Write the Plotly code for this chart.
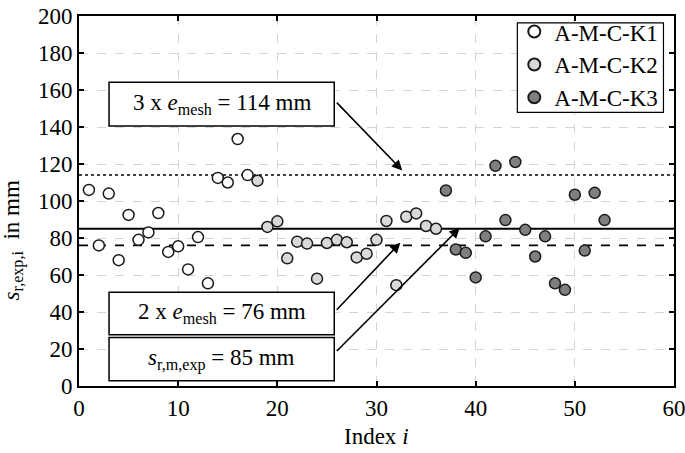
import plotly.graph_objects as go

# ---- data ----
k1_index = list(range(1, 18))
k1_values = [106, 76, 104, 68, 92.5, 79, 83, 93.5, 72.5, 75.5, 63, 80.5, 55.5, 112.5, 110, 133.5, 114]
k2_index = list(range(18, 37))
k2_values = [111, 86, 89, 69, 78, 77, 58, 77.3, 79, 77.7, 69.5, 71.5, 79, 89.2, 54.5, 91.5, 93.3, 86.5, 85]
k3_index = list(range(37, 54))
k3_values = [105.7, 73.8, 72, 58.7, 80.9, 119, 89.7, 121.1, 84.4, 70, 80.9, 55.5, 52, 103.4, 73.2, 104.4, 89.7]

series_names = ["A-M-C-K1", "A-M-C-K2", "A-M-C-K3"]
series_colors = ["#ffffff", "#d9d9d9", "#7f7f7f"]

e_mesh_3x = 114
s_rm_exp = 85
e_mesh_2x = 76

x_ticks = [0, 10, 20, 30, 40, 50, 60]
y_ticks = [0, 20, 40, 60, 80, 100, 120, 140, 160, 180, 200]

FONT = "Liberation Serif, Times New Roman, serif"
FS = 23

fig = go.Figure()
for idx, vals, name, col in zip([k1_index, k2_index, k3_index],
                                [k1_values, k2_values, k3_values],
                                series_names, series_colors):
    fig.add_trace(go.Scatter(
        x=idx, y=vals, mode="markers", name=name,
        marker=dict(size=11, color=col, line=dict(color="#1a1a1a", width=1.5)),
    ))

# reference lines
for yv, dash, w in [(e_mesh_3x, "dot", 1.5), (s_rm_exp, "solid", 2), (e_mesh_2x, "dash", 1.8)]:
    fig.add_shape(type="line", xref="paper", yref="y", x0=0, x1=1, y0=yv, y1=yv,
                  line=dict(color="black", width=w, dash=dash), layer="between")

# annotation boxes (data coords) and texts
boxes = [
    (3.03, 25.74, 140.6, 164.2, "3 x <i>e</i><sub>mesh</sub> = 114 mm"),
    (3.03, 25.74, 27.7, 50.7, "2 x <i>e</i><sub>mesh</sub> = 76 mm"),
    (3.03, 25.74, 2.8, 26.2, "<i>s</i><sub>r,m,exp</sub> = 85 mm"),
]
for x0, x1, y0, y1, txt in boxes:
    fig.add_shape(type="rect", xref="x", yref="y", x0=x0, x1=x1, y0=y0, y1=y1,
                  line=dict(color="black", width=1.5), fillcolor="white", layer="above")
    fig.add_annotation(x=(x0 + x1) / 2, y=(y0 + y1) / 2, xref="x", yref="y", text=txt,
                       showarrow=False, font=dict(family=FONT, size=FS, color="black"),
                       xanchor="center", yanchor="middle")

arrows = [
    (25.85, 154.0, 32.6, 116.5),
    (25.85, 40.4, 32.4, 77.5),
    (25.85, 18.1, 38.4, 85.5),
]
for ax, ay, x, y in arrows:
    fig.add_annotation(x=x, y=y, ax=ax, ay=ay, xref="x", yref="y", axref="x", ayref="y",
                       text="", showarrow=True, arrowhead=2, arrowsize=1.3, arrowwidth=1.6,
                       arrowcolor="black", standoff=0, startstandoff=0)

# legend frame
fig.add_shape(type="rect", xref="paper", yref="paper", x0=0.7367, x1=0.9823, y0=0.7394, y1=0.9814,
              line=dict(color="black", width=1.2), fillcolor="white", layer="above")

# axis titles
fig.add_annotation(xref="paper", yref="paper", x=-0.11, y=0.392, textangle=-90,
                   text="<i>s</i><sub>r,exp,i</sub>  in mm", showarrow=False,
                   font=dict(family=FONT, size=FS, color="black"),
                   xanchor="center", yanchor="middle")
fig.add_annotation(xref="paper", yref="paper", x=0.5, y=-0.136,
                   text="Index <i>i</i>", showarrow=False,
                   font=dict(family=FONT, size=FS, color="black"),
                   xanchor="center", yanchor="middle")

axis_common = dict(
    showline=True, linecolor="black", linewidth=1.8, mirror="ticks",
    ticks="inside", ticklen=5, tickwidth=1.5, tickcolor="black",
    showgrid=True, gridcolor="#d4d4d4", griddash="dash", gridwidth=1,
    zeroline=False, tickfont=dict(family=FONT, size=FS, color="black"),
    automargin=False, ticklabeloverflow="allow",
)
fig.update_xaxes(range=[0, 60], tickvals=x_ticks, **axis_common)
fig.update_yaxes(range=[0, 200], tickvals=y_ticks, **axis_common)

fig.update_layout(
    width=685, height=453,
    margin=dict(l=79, r=11, t=10, b=67),
    plot_bgcolor="white", paper_bgcolor="white",
    font=dict(family=FONT, size=FS, color="black"),
    legend=dict(x=0.982, y=1.016, xanchor="right", yanchor="top",
                borderwidth=0, bgcolor="rgba(0,0,0,0)",
                itemsizing="constant", font=dict(family=FONT, size=FS),
                tracegroupgap=0, itemwidth=30),
    showlegend=True,
)

fig.write_html("out.html", config={"displayModeBar": False},
               post_script="document.body.style.margin='0';document.body.style.overflow='hidden';")
